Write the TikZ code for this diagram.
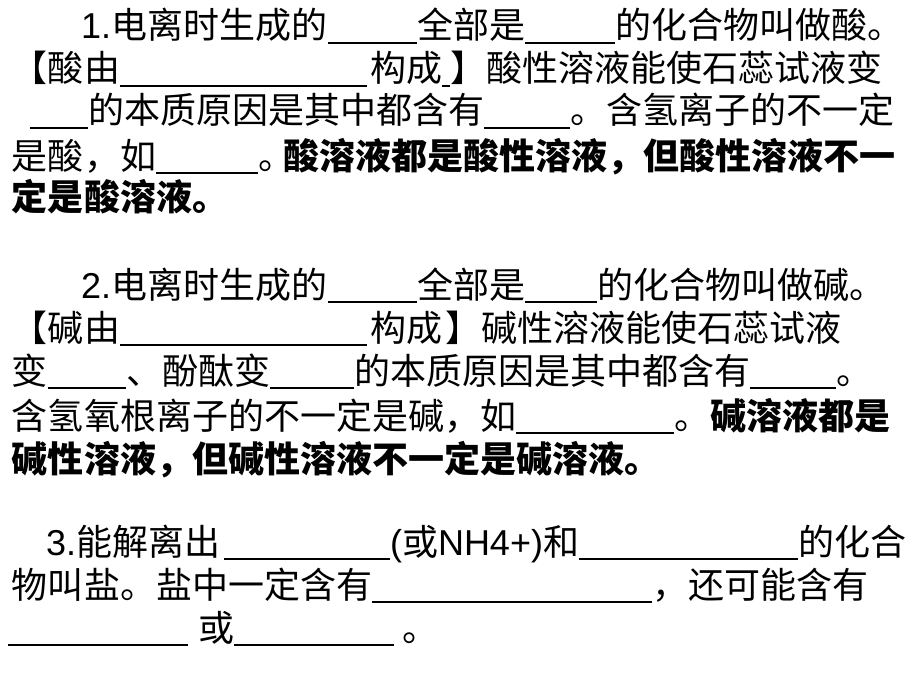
\documentclass[tikz,border=0pt]{standalone}
\usepackage{fontspec}
\setmainfont{Noto Sans CJK SC}
\newfontfamily\lat{Liberation Sans}
\newcommand\blank[1]{\rule[-5.2pt]{#1pt}{2.4pt}}
\begin{document}
\begin{tikzpicture}[x=1pt,y=-1pt,
	txt/.style={anchor=base west,inner sep=0pt,outer sep=0pt,font=\fontsize{36pt}{43pt}\selectfont}]
		\fill[white] (0,0) rectangle (920,690);
		\useasboundingbox (0,0) rectangle (920,690);
		% 1. acids
		\node[txt] (s1a) at (81,39) {{\lat 1.}电离时生成的\hspace{1pt}\blank{89}全部是\blank{90}的化合物叫做酸。};
		\node[txt] (s1b) at (12,82) {【酸由\blank{247}\hspace{3pt}构成\blank{8}】酸性溶液能使石蕊试液变};
		\node[txt] (s1c) at (30,124) {\blank{58}的本质原因是其中都含有\blank{86}。含氢离子的不一定};
		\node[txt] (s1d) at (12,169) {是酸，如\blank{102}\makebox[25pt][l]{。}{\bfseries 酸溶液都是酸性溶液，但酸性溶液不一}};
		\node[txt] (s1e) at (12,210) {\bfseries 定是酸溶液。};
		% 2. bases
		\node[txt] (s2a) at (81,298) {{\lat 2.}电离时生成的\hspace{1pt}\blank{89}全部是\blank{72}的化合物叫做碱。};
		\node[txt] (s2b) at (12,341) {【碱由\blank{247}\hspace{3pt}构成\hspace{4pt}】碱性溶液能使石蕊试液};
		\node[txt] (s2c) at (12,384) {变\blank{78}、酚酞变\blank{84}的本质原因是其中都含有\blank{86}。};
		\node[txt] (s2d) at (12,429) {含氢氧根离子的不一定是碱，如\blank{158}。{\bfseries 碱溶液都是}};
		\node[txt] (s2e) at (12,472) {\bfseries 碱性溶液，但碱性溶液不一定是碱溶液。};
		% 3. salts
		\node[txt] (s3a) at (46,555) {{\lat 3.}能解离出\hspace{4pt}\blank{166}{\lat(}或{\lat NH4+)}和\blank{219}的化合};
		\node[txt] (s3b) at (12,598) {物叫盐。盐中一定含有\blank{280}，还可能含有};
		\node[txt] (s3c) at (8,641) {\blank{180}\hspace{10pt}或\blank{160}\hspace{8pt}。};
\end{tikzpicture}
\end{document}
